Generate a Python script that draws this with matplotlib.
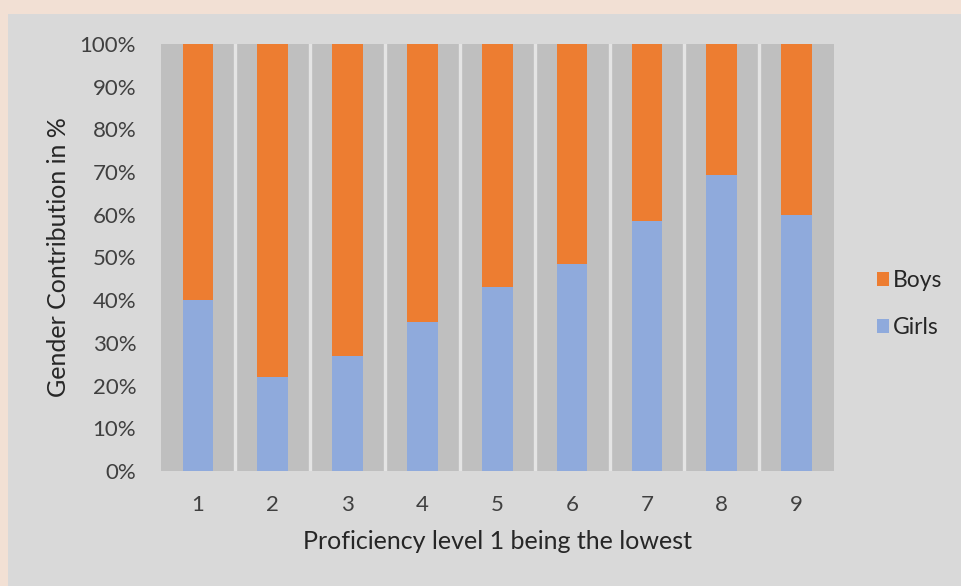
import matplotlib
matplotlib.use("Agg")
import matplotlib.pyplot as plt
from matplotlib.patches import Rectangle
from matplotlib.ticker import PercentFormatter, FixedLocator
import numpy as np

levels = ["1", "2", "3", "4", "5", "6", "7", "8", "9"]
girls = [40, 22, 27, 35, 43, 48.5, 58.5, 69.3, 60]
boys = [100 - g for g in girls]
yticks = list(range(0, 101, 10))

plt.rcParams['font.family'] = ['Lato', 'DejaVu Sans']

W, H = 961, 586
fig = plt.figure(figsize=(W / 100, H / 100), dpi=100)
fig.patch.set_facecolor("#f2e0d4")
panel = Rectangle((8 / W, 0), 1 - 8 / W, 1 - 14 / H,
                  transform=fig.transFigure, facecolor="#d9d9d9",
                  edgecolor="none", zorder=-5)
fig.patches.append(panel)

left, right, top, bottom = 160.5, 834, 44, 471
ax = fig.add_axes([left / W, 1 - bottom / H, (right - left) / W, (bottom - top) / H])
ax.set_zorder(2)
ax.set_facecolor("#bfbfbf")

x = np.arange(len(levels))
bw = 0.41
ax.bar(x, girls, bw, color="#8faadc", label="Girls", zorder=3)
ax.bar(x, boys, bw, bottom=girls, color="#ed7d31", label="Boys", zorder=3)

ax.set_xlim(-0.5, len(levels) - 0.5)
ax.set_ylim(0, 100)
ax.set_xticks(x)
ax.set_xticklabels(levels)
ax.xaxis.set_minor_locator(FixedLocator(np.arange(0.5, len(levels) - 0.5, 1)))
ax.grid(which="minor", axis="x", color="#e4e4e4", lw=2.4, zorder=1)
ax.set_yticks(yticks)
ax.yaxis.set_major_formatter(PercentFormatter(decimals=0))
for s in ax.spines.values():
    s.set_visible(False)
ax.tick_params(which="both", length=0)
ax.tick_params(axis="y", pad=17.5, labelsize=16, labelcolor="#404040")
ax.tick_params(axis="x", pad=17, labelsize=16, labelcolor="#404040")

ax.set_ylabel("Gender Contribution in %", fontsize=18, color="#262626", labelpad=7)
ax.set_xlabel("Proficiency level 1 being the lowest", fontsize=18, color="#262626", labelpad=11)

handles, labels_ = ax.get_legend_handles_labels()
leg = fig.legend(handles[::-1], labels_[::-1], loc="center left",
                 bbox_to_anchor=(856 / W, 1 - 304 / H), frameon=False,
                 fontsize=16.5, handlelength=0.52, handleheight=0.52,
                 handletextpad=0.2, labelspacing=1.13, labelcolor="#262626")
leg.set_zorder(3)

fig.savefig("out.png", dpi=100, facecolor=fig.get_facecolor())
